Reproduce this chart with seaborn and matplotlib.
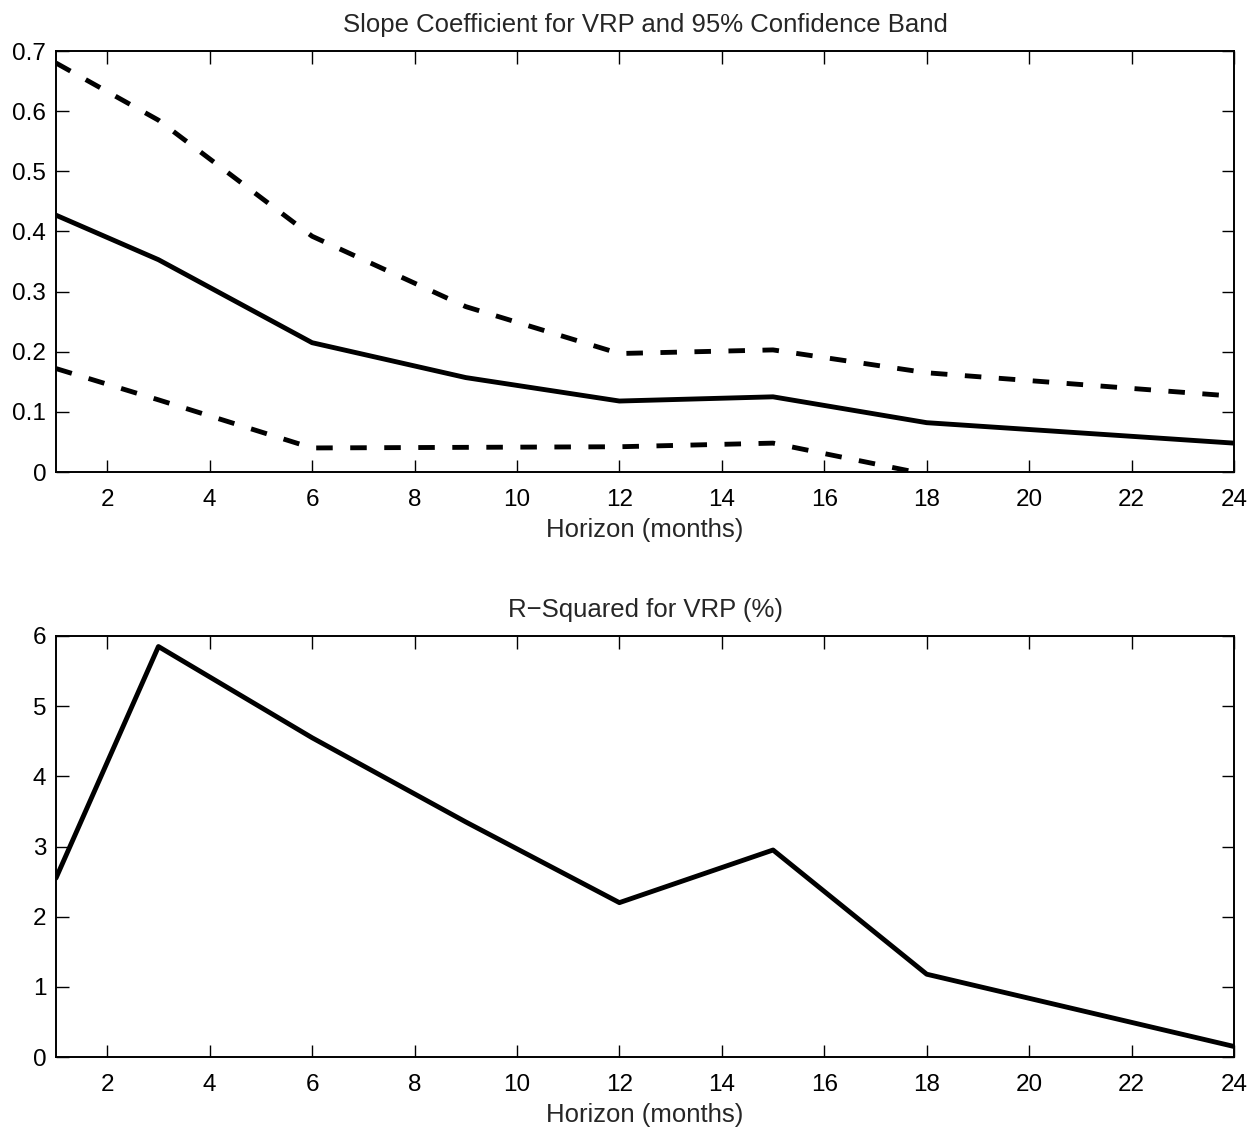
import matplotlib
matplotlib.use("Agg")
import matplotlib.pyplot as plt
import seaborn as sns
import pandas as pd

horizon = [1, 3, 6, 9, 12, 15, 18, 24]
slope = [0.427, 0.353, 0.215, 0.157, 0.118, 0.125, 0.082, 0.048]
upper = [0.680, 0.585, 0.392, 0.275, 0.197, 0.203, 0.165, 0.126]
lower = [0.172, 0.120, 0.040, 0.041, 0.042, 0.048, -0.004, -0.030]
rsq = [2.55, 5.85, 4.55, 3.35, 2.20, 2.95, 1.18, 0.15]

xticks = [2, 4, 6, 8, 10, 12, 14, 16, 18, 20, 22, 24]
top_yticks = [0, 0.1, 0.2, 0.3, 0.4, 0.5, 0.6, 0.7]
top_yticklabels = ["0", "0.1", "0.2", "0.3", "0.4", "0.5", "0.6", "0.7"]
bot_yticks = [0, 1, 2, 3, 4, 5, 6]

sns.set_theme(style="ticks")
plt.rcParams["font.family"] = ["Liberation Sans", "DejaVu Sans"]
plt.rcParams["axes.linewidth"] = 1.4

df = pd.DataFrame({"h": horizon, "slope": slope, "upper": upper,
                   "lower": lower, "rsq": rsq})

fig = plt.figure(figsize=(12.6, 11.35), dpi=100)
ax1 = fig.add_axes([56/1260, 1-472/1135, (1234-56)/1260, (472-51)/1135])
ax2 = fig.add_axes([56/1260, 1-1057/1135, (1234-56)/1260, (1057-636)/1135])

lw = 3.5
sns.lineplot(data=df, x="h", y="slope", ax=ax1, color="black", lw=lw)
sns.lineplot(data=df, x="h", y="upper", ax=ax1, color="black", lw=lw)
sns.lineplot(data=df, x="h", y="lower", ax=ax1, color="black", lw=lw)
for ln in ax1.get_lines()[1:]:
    ln.set_dashes([3.4, 3.6])
    ln.set_dash_capstyle("butt")
sns.lineplot(data=df, x="h", y="rsq", ax=ax2, color="black", lw=lw)

ax1.set_ylim(0, 0.7)
ax1.set_yticks(top_yticks)
ax1.set_yticklabels(top_yticklabels)
ax2.set_ylim(0, 6)
ax2.set_yticks(bot_yticks)

ax1.set_title("Slope Coefficient for VRP and 95% Confidence Band", fontsize=18.5, pad=14)
ax2.set_title("R\u2212Squared for VRP (%)", fontsize=18.5, pad=14)

for ax in (ax1, ax2):
    ax.set_xlim(1, 24)
    ax.set_xticks(xticks)
    ax.set_xlabel("Horizon (months)", fontsize=18.5, labelpad=5)
    ax.set_ylabel("")
    ax.tick_params(direction="in", length=9, width=1.0, labelsize=17.5,
                   top=True, right=True, pad=7, colors="black")
    ax.tick_params(axis="x", pad=12)
    for s in ax.spines.values():
        s.set_visible(True)
        s.set_color("black")

fig.savefig("out.png", dpi=100)
